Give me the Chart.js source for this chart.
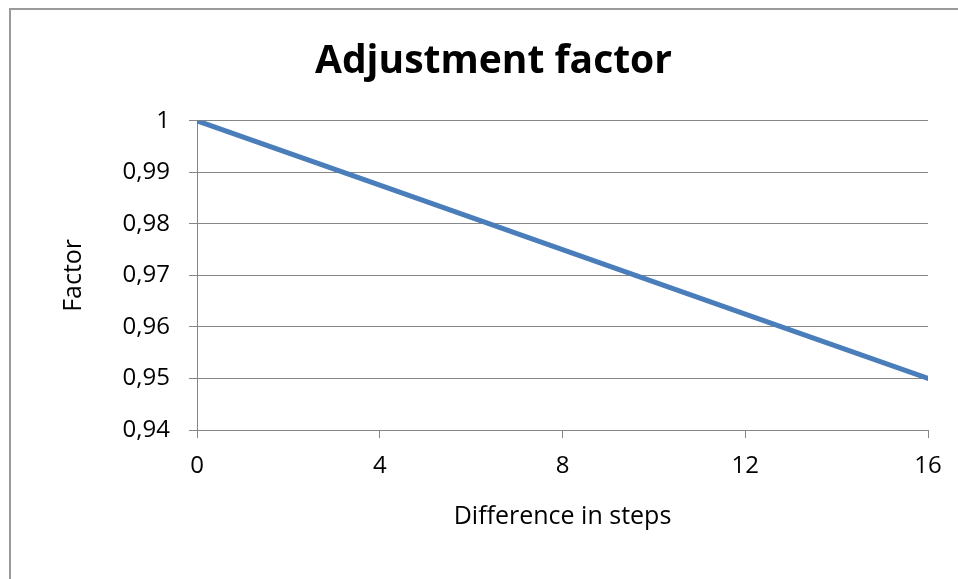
<!DOCTYPE html>
<html>
<head>
<meta charset="utf-8">
<script src="https://cdn.jsdelivr.net/npm/chart.js@4.4.1/dist/chart.umd.min.js"></script>
<style>
  html, body { margin: 0; padding: 0; background: #fff; }
  #wrap { position: relative; width: 958px; height: 579px; overflow: hidden; }
  #frame { position: absolute; left: 9px; top: 8px; width: 2000px; height: 2000px;
           border-left: 2px solid #9a9a9a; border-top: 2px solid #9a9a9a; }
  canvas { position: absolute; left: 0; top: 0; }
</style>
</head>
<body>
<div id="wrap">
  <div id="frame"></div>
  <canvas id="chart" width="958" height="579"></canvas>
</div>
<script>
// data
const steps = [0, 4, 8, 12, 16];
const factors = [1, 0.9875, 0.975, 0.9625, 0.95];
const xTicks = [0, 4, 8, 12, 16];
const yTicks = [0.94, 0.95, 0.96, 0.97, 0.98, 0.99, 1];

const gridColor = "#868686";
const fontFamily = "'Open Sans', sans-serif";

const points = steps.map((s, i) => ({ x: s, y: factors[i] }));

new Chart(document.getElementById("chart"), {
    type: "line",
    data: {
        datasets: [{
            data: points,
            borderColor: "#4A7EBB",
            borderWidth: 5,
            borderCapStyle: "round",
            pointRadius: 0,
            tension: 0,
        }],
    },
    options: {
        responsive: false,
        animation: false,
        layout: { padding: { left: 59, right: 30, top: 0, bottom: 47 } },
        plugins: {
            legend: { display: false },
            tooltip: { enabled: false },
            title: {
                display: true,
                text: "Adjustment factor",
                color: "#000",
                font: { family: fontFamily, size: 39, weight: "bold" },
                padding: { top: 38, bottom: 36 },
            },
        },
        scales: {
            x: {
                type: "linear",
                min: 0,
                max: 16,
                afterBuildTicks: (scale) => { scale.ticks = xTicks.map(v => ({ value: v })); },
                afterFit: (scale) => { scale.height = 102; },
                grid: { drawOnChartArea: false, color: gridColor, tickLength: 8 },
                border: { display: true, color: gridColor, width: 1 },
                ticks: { color: "#000", padding: 14, font: { family: fontFamily, size: 24 } },
                title: {
                    display: true,
                    text: "Difference in steps",
                    color: "#000",
                    padding: 0,
                    font: { family: fontFamily, size: 25 },
                },
            },
            y: {
                min: 0.94,
                max: 1,
                afterBuildTicks: (scale) => { scale.ticks = yTicks.map(v => ({ value: v })); },
                afterFit: (scale) => { scale.width = 138; },
                grid: { color: gridColor, tickLength: 8 },
                border: { display: true, color: gridColor, width: 1 },
                ticks: {
                    color: "#000",
                    padding: 19,
                    font: { family: fontFamily, size: 24 },
                    callback: (v) => String(v).replace(".", ","),
                },
                title: {
                    display: true,
                    text: "Factor",
                    color: "#000",
                    padding: 0,
                    font: { family: fontFamily, size: 25 },
                },
            },
        },
    },
});
</script>
</body>
</html>
